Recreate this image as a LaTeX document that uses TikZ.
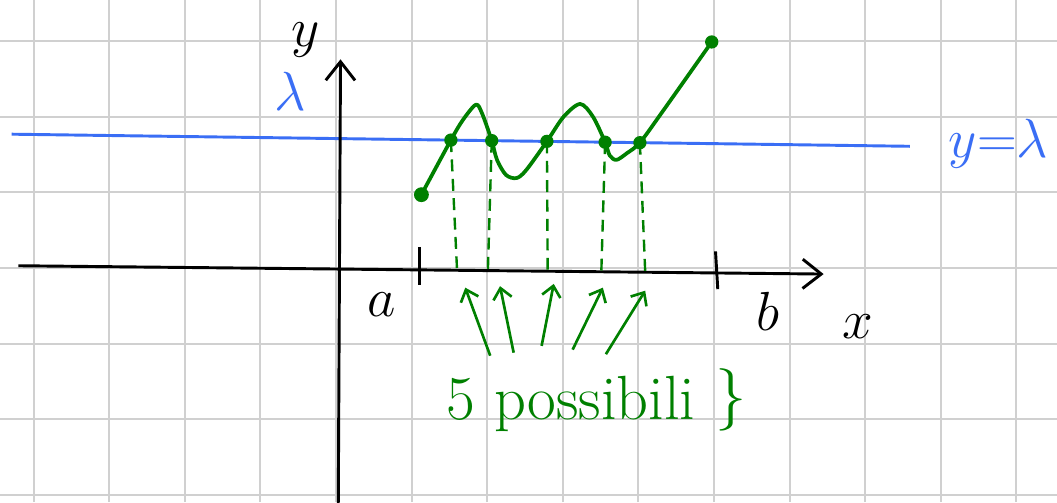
\documentclass[tikz,border=0pt]{standalone}
\usetikzlibrary{arrows.meta}
\definecolor{penblue}{RGB}{58,110,245}
\definecolor{pengreen}{RGB}{0,128,0}
\definecolor{gridgray}{RGB}{208,208,208}
\begin{document}
\begin{tikzpicture}[x=1cm,y=1cm, every node/.style={font=\fontsize{20}{24}\selectfont},
  gridline/.style={gridgray, line width=0.8pt},
  axis/.style={line width=1.1pt, -{Straight Barb[length=7pt,width=11pt,line width=1.1pt]}},
  level/.style={penblue, line width=1.1pt},
  curve/.style={pengreen, line width=1.4pt, line join=round},
  guide/.style={pengreen, line width=0.9pt, dash pattern=on 4.5pt off 2.8pt},
  pointer/.style={pengreen, line width=1pt, -{Straight Barb[length=4pt,width=7pt]}}]
  \useasboundingbox (-4.444,-3.095) rectangle (9.537,3.545);
  \fill[white] (-4.444,-3.095) rectangle (9.537,3.545);
  \draw[gridline] (-4.444,-3.095) grid (9.537,3.545);
  \coordinate (ls) at (-4.29,1.77);
  \coordinate (le) at (7.59,1.61);
  \draw[level] (ls) -- (le);
  \coordinate (xs) at (-4.2,0.03);
  \coordinate (xe) at (6.45,-0.08);
  \coordinate (ys) at (0.03,-3.2);
  \coordinate (ye) at (0.06,2.76);
  \draw[axis] (xs) -- (xe);
  \draw[axis] (ys) -- (ye);
  \draw[line width=1.1pt] (1.10,0.28) -- (1.10,-0.22);
  \draw[line width=1.1pt] (5.02,0.22) -- (5.05,-0.28);
  \coordinate (s) at (1.13,0.97);
  \coordinate (p1) at (1.52,1.692);
  \coordinate (p2) at (2.06,1.685);
  \coordinate (p3) at (2.79,1.675);
  \coordinate (p4) at (3.56,1.664);
  \coordinate (p5) at (4.02,1.658);
  \coordinate (e) at (4.97,2.99);
  \foreach \i/\fx/\fy in {1/1.60/0.0, 2/2.01/-0.01, 3/2.80/-0.02, 4/3.51/-0.04, 5/4.09/-0.05}
    \draw[guide] (p\i) -- (\fx,\fy);
  \draw[curve] plot[smooth, tension=0.5] coordinates {(s) (p1) (1.68,1.96) (1.85,2.16)
    (1.93,2.05) (p2) (2.13,1.43) (2.25,1.23) (2.39,1.19) (2.52,1.30) (p3) (3.01,2.0)
    (3.23,2.17) (3.40,2.0) (p4) (3.62,1.49) (3.71,1.43) (3.85,1.52) (p5) (4.32,2.07) (e)};
  \fill[pengreen] (s) circle (2.8pt);
  \foreach \i in {1,...,5}
    \fill[pengreen] (p\i) circle (2.5pt);
  \fill[pengreen] (e) circle (2.5pt);
  \foreach \tx/\ty/\hx/\hy in {2.04/-1.16/1.71/-0.26, 2.35/-1.12/2.17/-0.24,
      2.72/-1.03/2.88/-0.21, 3.13/-1.08/3.53/-0.26, 3.57/-1.14/4.09/-0.30}
    \draw[pointer] (\tx,\ty) -- (\hx,\hy);
  \node (a) at (0.61,-0.49) {$a$};
  \node (b) at (5.71,-0.58) {$b$};
  \node (xlab) at (6.90,-0.77) {$x$};
  \node[inner sep=1pt] (ylab) at (-0.40,3.02) {$y$};
  \node[penblue] (lam) at (-0.60,2.34) {$\lambda$};
  \node[penblue, anchor=west, inner sep=0pt, font=\fontsize{21}{25}\selectfont] (eq) at (8.10,1.65) {$y{=}\lambda$};
  \node[pengreen, font=\fontsize{23.5}{28}\selectfont] (note) at (3.11,-1.80) {5 possibili};
  \node[pengreen, font=\fontsize{23.5}{28}\selectfont] (brace) at (5.22,-1.75) {\}};
\end{tikzpicture}
\end{document}
